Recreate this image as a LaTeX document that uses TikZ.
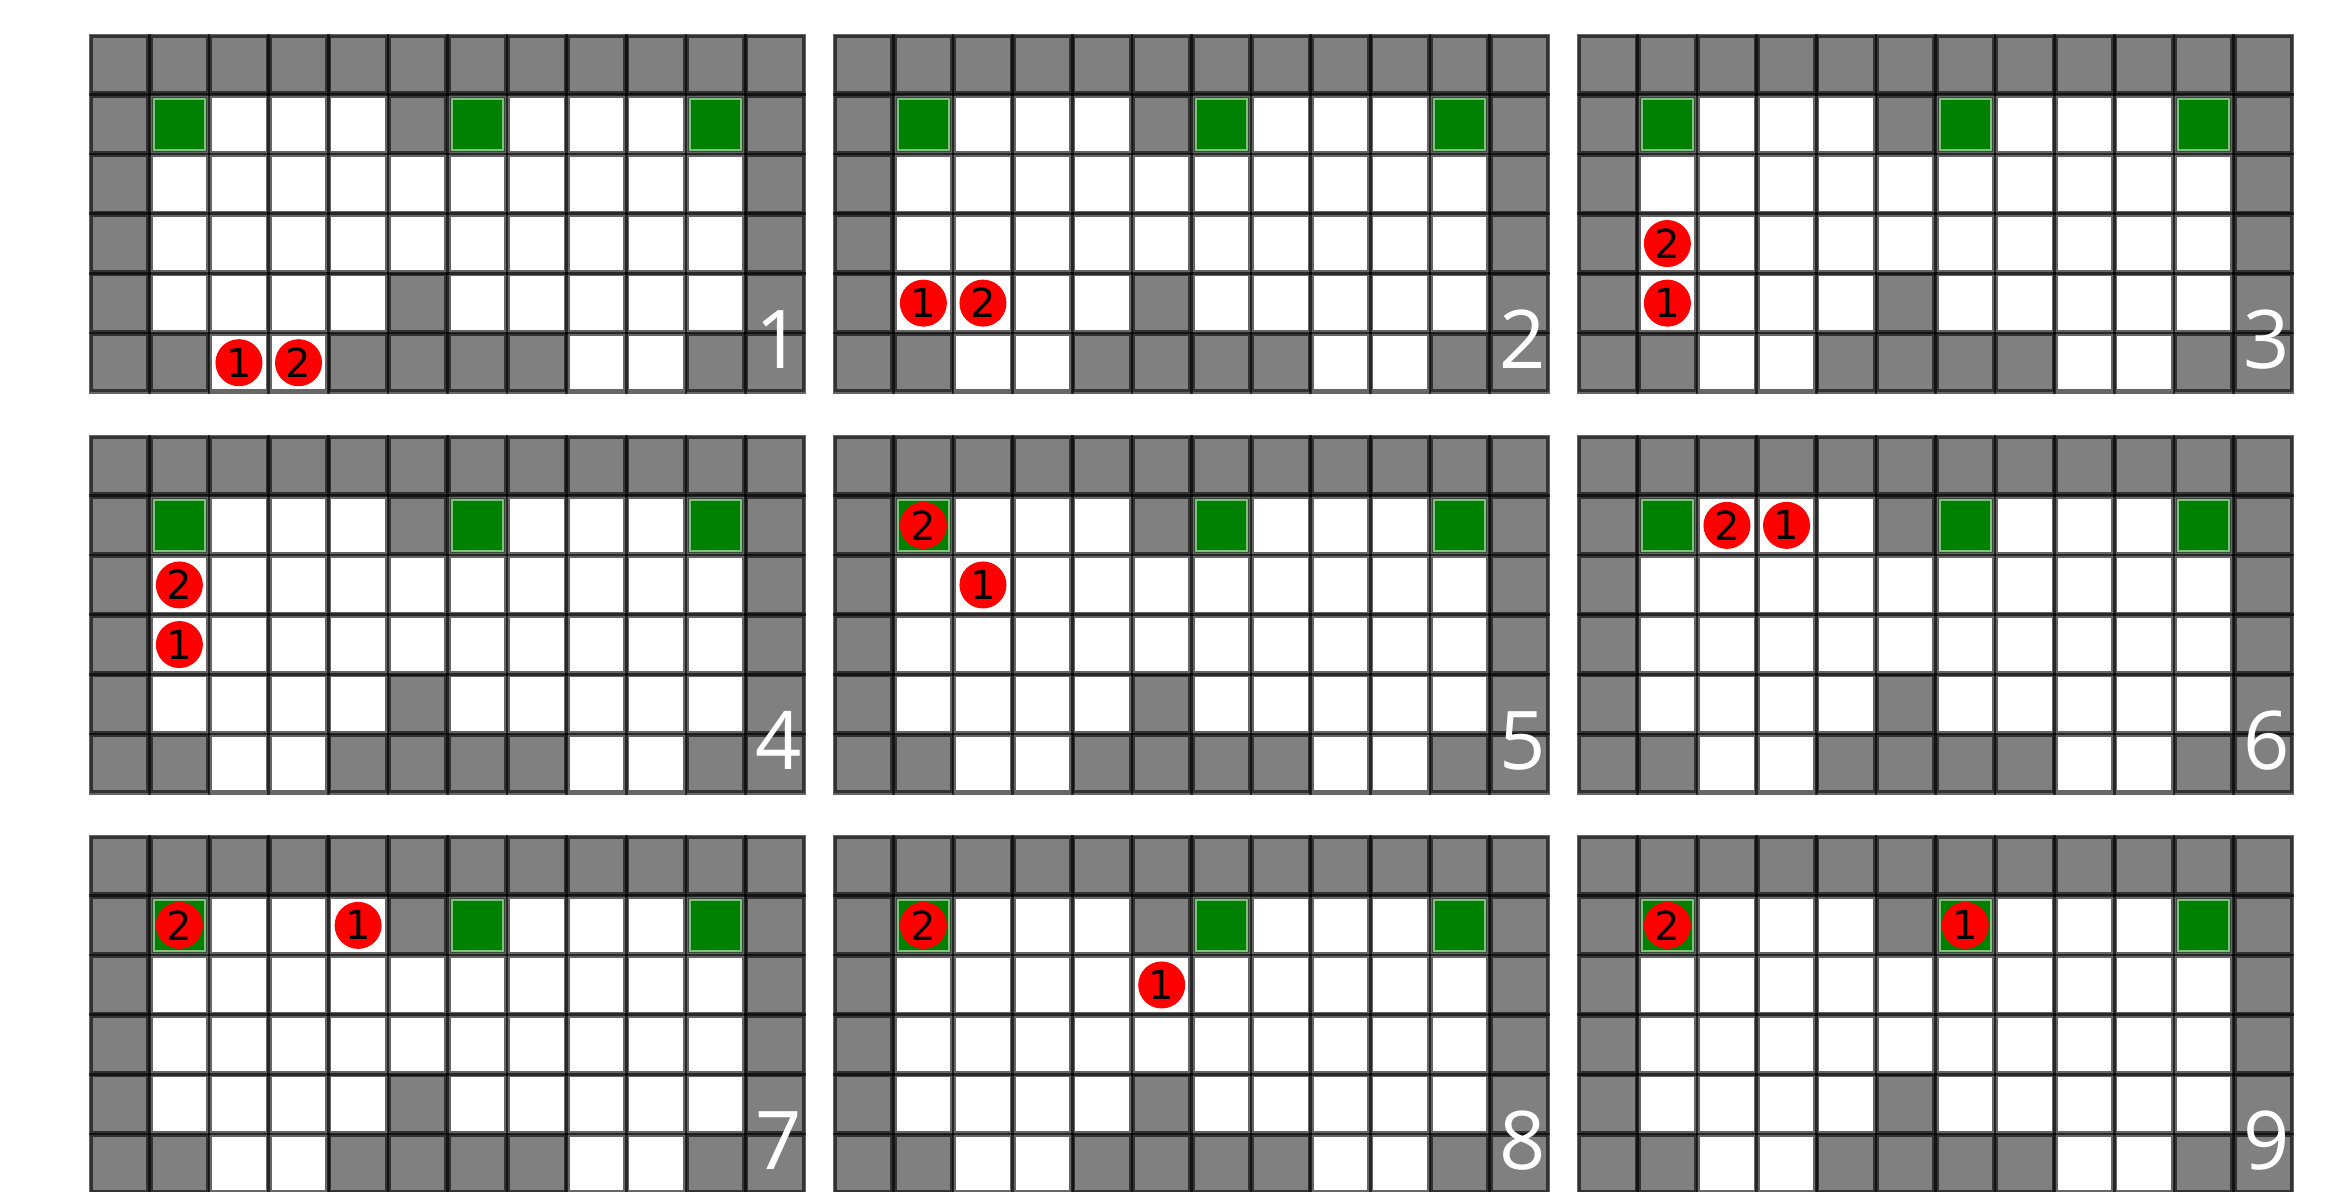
\documentclass[tikz,border=0pt]{standalone}
\usepackage{fontspec}
\newfontfamily\circfont{DejaVu Sans}
\newfontfamily\labfont{Open Sans}
\definecolor{wallgray}{HTML}{808080}
\definecolor{goalgreen}{HTML}{008000}
\definecolor{goaledge}{HTML}{80C080}
\definecolor{agentred}{HTML}{FF0000}
\tikzset{
  wallcell/.style={fill=wallgray},
  goalcell/.style={fill=goalgreen, draw=goaledge, line width=3pt},
  cellline/.style={draw=black, draw opacity=0.6, line width=4.4pt},
  agent/.style={circle, fill=agentred, minimum size=47pt, inner sep=0pt,
    text=black, font=\circfont\fontsize{40pt}{48pt}\selectfont},
  panellabel/.style={anchor=base east, inner sep=0pt, text=white,
    font=\labfont\fontsize{81pt}{90pt}\selectfont}
}
\def\cs{59.58}
\begin{document}
\begin{tikzpicture}[x=1pt,y=-1pt]
\useasboundingbox (0,0) rectangle (2331,1191);
\fill[white] (0,0) rectangle (2331,1191);
\foreach \px/\py/\lab/\ac/\ar/\bc/\br in {
  90/35/1/2/5/3/5, 834/35/2/1/4/2/4, 1578/35/3/1/4/1/3,
  90/436/4/1/3/1/2, 834/436/5/2/2/1/1, 1578/436/6/3/1/2/1,
  90/836/7/4/1/1/1, 834/836/8/5/2/1/1, 1578/836/9/6/1/1/1}{
  \begin{scope}[shift={(\px,\py)}]
    % background
    \fill[white] (0,0) rectangle ({12*\cs},{6*\cs});
    % walls
    \foreach \c in {0,...,11}{
      \path[wallcell] ({\c*\cs},0) rectangle ({(\c+1)*\cs},{\cs});
    }
    \foreach \c/\r in {0/1,5/1,11/1,0/2,11/2,0/3,11/3,0/4,5/4,11/4,
                       0/5,1/5,4/5,5/5,6/5,7/5,10/5,11/5}{
      \path[wallcell] ({\c*\cs},{\r*\cs}) rectangle ({(\c+1)*\cs},{(\r+1)*\cs});
    }
    % goals
    \foreach \c in {1,6,10}{
      \path[goalcell] ({\c*\cs+4},{\cs+4}) rectangle ({(\c+1)*\cs-4},{2*\cs-4});
    }
    % grid lines
    \foreach \c in {0,...,11}{
      \foreach \r in {0,...,5}{
        \path[cellline] ({\c*\cs+0.9},{\r*\cs+0.9}) rectangle ({(\c+1)*\cs-0.9},{(\r+1)*\cs-0.9});
      }
    }
    % agents
    \node[agent] (agentA\lab) at ({(\ac+0.5)*\cs},{(\ar+0.5)*\cs}) {1};
    \node[agent] (agentB\lab) at ({(\bc+0.5)*\cs},{(\br+0.5)*\cs}) {2};
    % panel number
    \node[panellabel] (label\lab) at ({12*\cs-3},{6*\cs-24}) {\lab};
  \end{scope}
}
\end{tikzpicture}
\end{document}
